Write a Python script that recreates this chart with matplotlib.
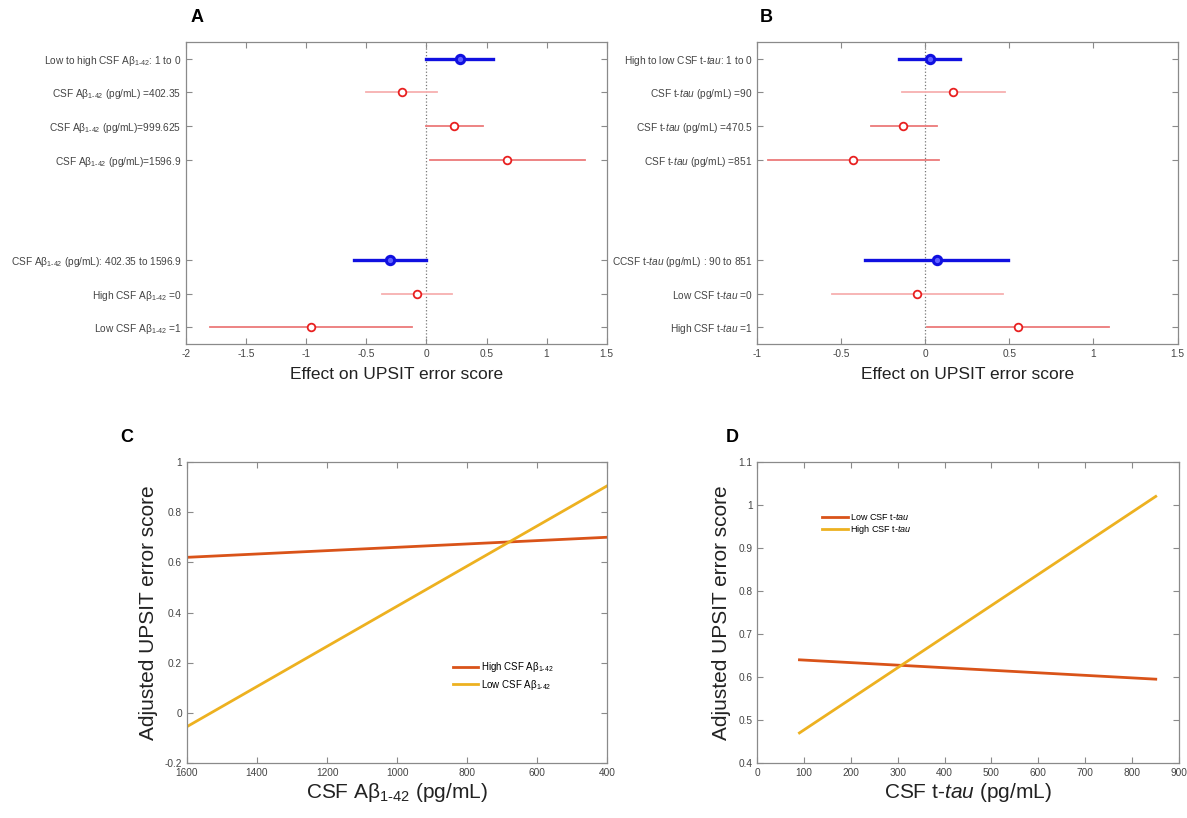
import matplotlib
matplotlib.use("Agg")
import matplotlib.pyplot as plt
import numpy as np

plt.rcParams["font.family"] = ["Liberation Sans", "DejaVu Sans"]
plt.rcParams["mathtext.fontset"] = "custom"
plt.rcParams["mathtext.rm"] = "Liberation Sans"
plt.rcParams["mathtext.it"] = "Liberation Sans:italic"
plt.rcParams["axes.unicode_minus"] = False

AB = "A\u03b2$_{\\mathregular{1\u201042}}$"
TAU = r"t-$\mathit{tau}$"

# Panel A: effects on UPSIT error score (CSF Abeta 1-42)
a_labels = [
    f"Low to high CSF {AB}: 1 to 0",
    f"CSF {AB} (pg/mL) =402.35",
    f"CSF {AB} (pg/mL)=999.625",
    f"CSF {AB} (pg/mL)=1596.9",
    f"CSF {AB} (pg/mL): 402.35 to 1596.9",
    f"High CSF {AB} =0",
    f"Low CSF {AB} =1",
]
a_est = [0.277, -0.205, 0.233, 0.67, -0.302, -0.08, -0.96]
a_lo = [0.0, -0.50, 0.0, 0.03, -0.605, -0.374, -1.80]
a_hi = [0.55, 0.09, 0.475, 1.32, 0.0, 0.214, -0.122]

# Panel B: effects on UPSIT error score (CSF t-tau)
b_labels = [
    f"High to low CSF {TAU}: 1 to 0",
    f"CSF {TAU} (pg/mL) =90",
    f"CSF {TAU} (pg/mL) =470.5",
    f"CSF {TAU} (pg/mL) =851",
    f"CCSF {TAU} (pg/mL) : 90 to 851",
    f"Low CSF {TAU} =0",
    f"High CSF {TAU} =1",
]
b_est = [0.026, 0.167, -0.131, -0.429, 0.069, -0.048, 0.552]
b_lo = [-0.155, -0.139, -0.325, -0.937, -0.359, -0.554, 0.01]
b_hi = [0.206, 0.474, 0.067, 0.083, 0.492, 0.462, 1.093]

# row kind: summary contrast (blue) or level estimate (red)
row_kind = ["summary", "light", "level", "level", "summary", "light", "level"]

# Panel C: adjusted UPSIT error score vs CSF Abeta 1-42
c_x = [1600, 400]
c_high = [0.62, 0.70]
c_low = [-0.055, 0.905]

# Panel D: adjusted UPSIT error score vs CSF t-tau
d_x = [90, 851]
d_low = [0.64, 0.595]
d_high = [0.47, 1.02]

ORANGE = "#D95319"
YELLOW = "#EDB120"
SPINE = "#8a8a8a"
TICK = "#444444"


def style_axes(ax):
    for s in ax.spines.values():
        s.set_color(SPINE)
        s.set_linewidth(0.9)
    ax.tick_params(direction="in", top=True, right=True, length=4,
                   color=SPINE, labelcolor=TICK, labelsize=7.3)


def forest(ax, labels, est, lo, hi, xlim, xticks):
    rows = [0, 1, 2, 3, 6, 7, 8]
    ax.axvline(0, color="#777777", linestyle=":", linewidth=0.9, zorder=1)
    for y, e, l, h, k in zip(rows, est, lo, hi, row_kind):
        if k == "summary":
            ax.plot([l, h], [y, y], color="#1010e0", linewidth=2.4, zorder=2)
            ax.plot(e, y, "o", color="#1010e0", markersize=6,
                    markerfacecolor="#6060ff", markeredgewidth=2.2, zorder=3)
        else:
            c = "#f7b0b0" if k == "light" else "#ec7a7a"
            ax.plot([l, h], [y, y], color=c, linewidth=1.3, zorder=2)
            ax.plot(e, y, "o", color="#e82020", markersize=5.5,
                    markerfacecolor="white", markeredgewidth=1.3, zorder=3)
    ax.set_yticks(rows)
    ax.set_yticklabels(labels)
    ax.set_ylim(8.5, -0.5)
    ax.set_xlim(*xlim)
    ax.set_xticks(xticks)
    ax.set_xticklabels([f"{t:g}" for t in xticks])
    style_axes(ax)
    ax.set_xlabel("Effect on UPSIT error score", fontsize=12.5, color="#222222",
                  labelpad=6)


fig = plt.figure(figsize=(11.87, 8.18), dpi=100)

ax_a = fig.add_axes([0.157, 0.5795, 0.354, 0.369])
forest(ax_a, a_labels, a_est, a_lo, a_hi, (-2, 1.5),
       [-2, -1.5, -1, -0.5, 0, 0.5, 1, 1.5])

ax_b = fig.add_axes([0.638, 0.5795, 0.354, 0.369])
forest(ax_b, b_labels, b_est, b_lo, b_hi, (-1, 1.5),
       [-1, -0.5, 0, 0.5, 1, 1.5])

ax_c = fig.add_axes([0.1575, 0.0672, 0.354, 0.368])
ax_c.plot(c_x, c_high, color=ORANGE, linewidth=2.0, label=f"High CSF {AB}")
ax_c.plot(c_x, c_low, color=YELLOW, linewidth=2.0, label=f"Low CSF {AB}")
ax_c.set_xlim(1600, 400)
ax_c.set_ylim(-0.2, 1.0)
ax_c.set_xticks(np.arange(1600, 399, -200))
ax_c.set_yticks([-0.2, 0, 0.2, 0.4, 0.6, 0.8, 1])
ax_c.set_yticklabels(["-0.2", "0", "0.2", "0.4", "0.6", "0.8", "1"])
style_axes(ax_c)
ax_c.set_xlabel(f"CSF {AB} (pg/mL)", fontsize=15, color="#222222", labelpad=2)
ax_c.set_ylabel("Adjusted UPSIT error score", fontsize=15, color="#222222",
                labelpad=5)
ax_c.legend(loc="upper left", bbox_to_anchor=(0.612, 0.37), frameon=False,
            fontsize=7, handlelength=2.6, labelspacing=0.35, handletextpad=0.3)

ax_d = fig.add_axes([0.638, 0.0672, 0.355, 0.368])
ax_d.plot(d_x, d_low, color=ORANGE, linewidth=2.0, label=f"Low CSF {TAU}")
ax_d.plot(d_x, d_high, color=YELLOW, linewidth=2.0, label=f"High CSF {TAU}")
ax_d.set_xlim(0, 900)
ax_d.set_ylim(0.4, 1.1)
ax_d.set_xticks(np.arange(0, 901, 100))
ax_d.set_yticks([0.4, 0.5, 0.6, 0.7, 0.8, 0.9, 1.0, 1.1])
ax_d.set_yticklabels(["0.4", "0.5", "0.6", "0.7", "0.8", "0.9", "1", "1.1"])
style_axes(ax_d)
ax_d.set_xlabel(f"CSF {TAU} (pg/mL)", fontsize=15, color="#222222", labelpad=2)
ax_d.set_ylabel("Adjusted UPSIT error score", fontsize=15, color="#222222",
                labelpad=5)
ax_d.legend(loc="upper left", bbox_to_anchor=(0.135, 0.865), frameon=False,
            fontsize=6.5, handlelength=2.8, labelspacing=0.15, handletextpad=0.3)

for letter, x, y in [("A", 197, 18), ("B", 766, 18), ("C", 127, 437), ("D", 732, 437)]:
    fig.text(x / 1187, 1 - y / 818, letter, fontsize=13, fontweight="bold",
             ha="center", va="center")

fig.savefig("out.png", dpi=100)
